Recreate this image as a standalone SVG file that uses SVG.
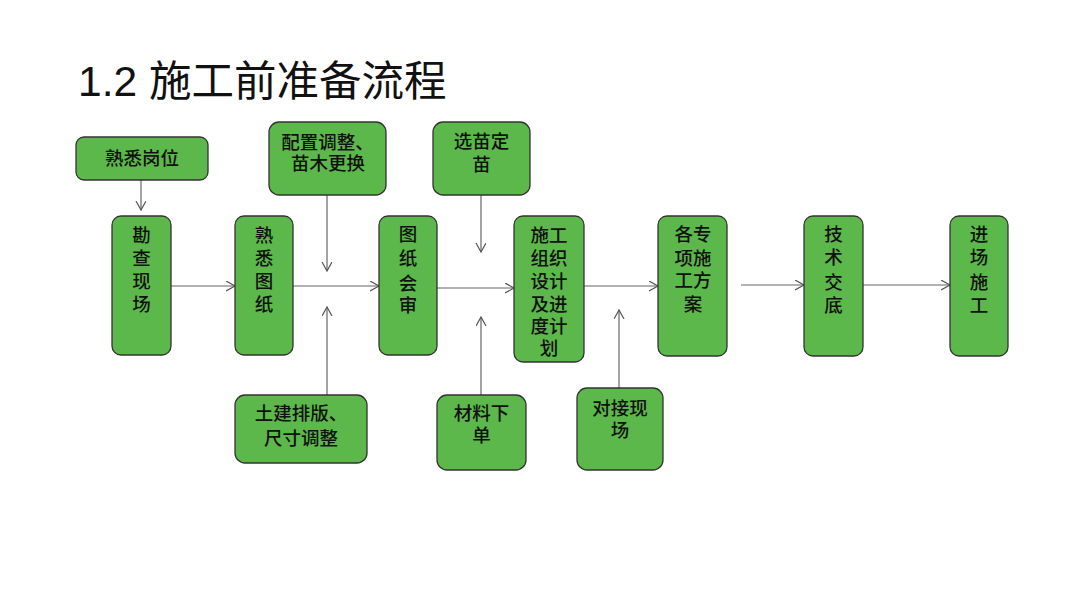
<svg xmlns="http://www.w3.org/2000/svg" width="1080" height="605" viewBox="0 0 1080 605">
<defs>
<marker id="arr" markerUnits="userSpaceOnUse" markerWidth="12" markerHeight="12" refX="9" refY="5" orient="auto">
<path d="M0,0 L9,5 L0,10" fill="none" stroke="#555" stroke-width="1.2"/>
</marker>
<style>
.box{fill:#5cb84a;stroke:#333;stroke-width:1.3}
.t{font-family:"Noto Sans CJK SC",sans-serif;font-size:18.5px;fill:#111;text-anchor:middle;font-weight:500}
.c{stroke:#666;stroke-width:1.2;fill:none;marker-end:url(#arr)}
</style>
</defs>
<rect width="1080" height="605" fill="#fff"/>
<text x="78" y="96" font-family="'Liberation Sans','Noto Sans CJK SC',sans-serif" font-size="42.5" fill="#111">1.2 施工前准备流程</text>
<g id="connectors">
<line class="c" x1="141" y1="180" x2="141" y2="210"/>
<line class="c" x1="171" y1="286" x2="235" y2="286"/>
<line class="c" x1="293" y1="286" x2="379" y2="286"/>
<line class="c" x1="327" y1="195" x2="327" y2="271"/>
<line class="c" x1="327" y1="395" x2="327" y2="307"/>
<line class="c" x1="430" y1="288" x2="514" y2="288"/>
<line class="c" x1="481" y1="195" x2="481" y2="252"/>
<line class="c" x1="481" y1="395" x2="481" y2="317"/>
<line class="c" x1="584" y1="286" x2="658" y2="286"/>
<line class="c" x1="619" y1="388" x2="619" y2="310"/>
<line class="c" x1="741" y1="285" x2="804" y2="285"/>
<line class="c" x1="863" y1="285" x2="950" y2="285"/>
</g>
<g id="n-gangwei"><rect class="box" x="76" y="137" width="132" height="43" rx="8"/><text class="t" x="142" y="165">熟悉岗位</text></g>
<g id="n-kancha"><rect class="box" x="112" y="216" width="59" height="139" rx="9"/>
<text class="t"><tspan x="141.5" y="242">勘</tspan><tspan x="141.5" y="265">查</tspan><tspan x="141.5" y="288">现</tspan><tspan x="141.5" y="311">场</tspan></text></g>
<g id="n-tuzhi"><rect class="box" x="235" y="216" width="58" height="139" rx="9"/>
<text class="t"><tspan x="264" y="242">熟</tspan><tspan x="264" y="265">悉</tspan><tspan x="264" y="288">图</tspan><tspan x="264" y="311">纸</tspan></text></g>
<g id="n-peizhi"><rect class="box" x="269" y="122" width="117" height="73" rx="10"/>
<text class="t"><tspan x="327.5" y="149">配置调整、</tspan><tspan x="328" y="170">苗木更换</tspan></text></g>
<g id="n-tujian"><rect class="box" x="235" y="395" width="132" height="68" rx="10"/>
<text class="t"><tspan x="301" y="420">土建排版、</tspan><tspan x="301" y="445">尺寸调整</tspan></text></g>
<g id="n-huishen"><rect class="box" x="379" y="216" width="58" height="139" rx="9"/>
<text class="t"><tspan x="408" y="241">图</tspan><tspan x="408" y="265">纸</tspan><tspan x="408" y="290">会</tspan><tspan x="408" y="312">审</tspan></text></g>
<g id="n-xuanmiao"><rect class="box" x="433" y="122" width="97" height="73" rx="10"/>
<text class="t"><tspan x="481.5" y="148">选苗定</tspan><tspan x="481.5" y="171">苗</tspan></text></g>
<g id="n-cailiao"><rect class="box" x="437" y="395" width="89" height="75" rx="10"/>
<text class="t"><tspan x="481.5" y="420">材料下</tspan><tspan x="481.5" y="442">单</tspan></text></g>
<g id="n-zuzhi"><rect class="box" x="514" y="216" width="70" height="146" rx="9"/>
<text class="t"><tspan x="549" y="242">施工</tspan><tspan x="549" y="265">组织</tspan><tspan x="549" y="288">设计</tspan><tspan x="549" y="311">及进</tspan><tspan x="549" y="333">度计</tspan><tspan x="549" y="355">划</tspan></text></g>
<g id="n-duijie"><rect class="box" x="577" y="388" width="86" height="82" rx="10"/>
<text class="t"><tspan x="620" y="415">对接现</tspan><tspan x="620" y="437">场</tspan></text></g>
<g id="n-fangan"><rect class="box" x="658" y="216" width="69" height="140" rx="9"/>
<text class="t"><tspan x="693" y="241">各专</tspan><tspan x="693" y="265">项施</tspan><tspan x="693" y="287">工方</tspan><tspan x="693" y="311">案</tspan></text></g>
<g id="n-jiaodi"><rect class="box" x="804" y="216" width="59" height="140" rx="9"/>
<text class="t"><tspan x="833.5" y="241">技</tspan><tspan x="833.5" y="264">术</tspan><tspan x="833.5" y="289">交</tspan><tspan x="833.5" y="312">底</tspan></text></g>
<g id="n-jinchang"><rect class="box" x="950" y="216" width="58" height="140" rx="9"/>
<text class="t"><tspan x="979" y="241">进</tspan><tspan x="979" y="264">场</tspan><tspan x="979" y="289">施</tspan><tspan x="979" y="312">工</tspan></text></g>
</svg>
